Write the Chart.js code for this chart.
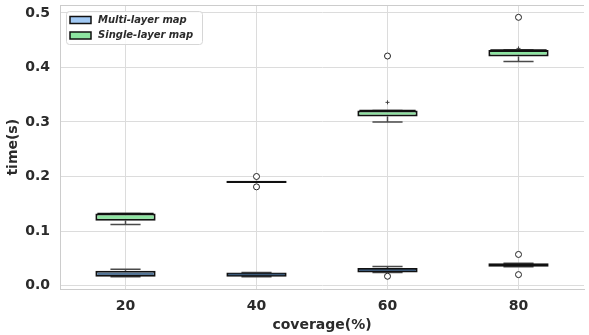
<!DOCTYPE html>
<html>
<head>
<meta charset="utf-8">
<script src="https://cdn.jsdelivr.net/npm/chart.js@4.4.1/dist/chart.umd.min.js"></script>
<style>
  html, body { margin: 0; padding: 0; background: #fff; overflow: hidden; }
  #wrap { width: 589px; height: 335px; }
</style>
</head>
<body>
<div id="wrap"><canvas id="box"></canvas></div>
<script>
const coverage = ['20', '40', '60', '80'];
const yTicks = [0.0, 0.1, 0.2, 0.3, 0.4, 0.5];

// Multi-layer map
const multiQ1 = [0.016, 0.016, 0.024, 0.0345];
const multiQ3 = [0.027, 0.024, 0.032, 0.041];
const multiMedian = [0.021, 0.020, 0.028, 0.038];
const multiLow = [0.016, 0.016, 0.024, 0.0345];
const multiHigh = [0.030, 0.024, 0.035, 0.041];
const multiOutliers = [[], [], [0.017], [0.057, 0.020]];

// Single-layer map
const singleQ1 = [0.119, 0.188, 0.310, 0.420];
const singleQ3 = [0.132, 0.192, 0.321, 0.432];
const singleMedian = [0.132, 0.190, 0.321, 0.432];
const singleLow = [0.112, 0.190, 0.300, 0.411];
const singleHigh = [0.132, 0.190, 0.321, 0.432];
const singleOutliers = [[], [0.200, 0.181], [0.421], [0.492]];
const singleFliers = [[], [], [0.336], [0.435]];

const textColor = '#2b2b2b';
const gridColor = '#dcdcdc';
const blue = '#a1c9f4';
const green = '#8de5a1';

function toPoints(list) {
  let pts = [];
  list.forEach((vals, i) => {
    vals.forEach(v => pts.push({ x: coverage[i], y: v }));
  });
  return pts;
}

const boxParts = [
  { q1: multiQ1, q3: multiQ3, med: multiMedian, low: multiLow, high: multiHigh, medColor: ['#3a5878', '#3a5878', '#3a5878', '#111'] },
  { q1: singleQ1, q3: singleQ3, med: singleMedian, low: singleLow, high: singleHigh, medColor: ['#111', '#111', '#111', '#111'] }
];

// whiskers, caps, medians, top frame, legend
const boxPlugin = {
  id: 'boxPlugin',
  beforeDatasetsDraw(chart) {
    const ctx = chart.ctx;
    const xs = chart.scales.x;
    const ys = chart.scales.y;
    ctx.save();
    boxParts.forEach((p, di) => {
      const meta = chart.getDatasetMeta(di);
      meta.data.forEach((bar, i) => {
        const cx = xs.getPixelForValue(i);
        const half = bar.width / 4;
        ctx.strokeStyle = '#4a4a4a';
        ctx.lineWidth = 1.5;
        ctx.beginPath();
        ctx.moveTo(cx, ys.getPixelForValue(p.q1[i]));
        ctx.lineTo(cx, ys.getPixelForValue(p.low[i]));
        ctx.moveTo(cx, ys.getPixelForValue(p.q3[i]));
        ctx.lineTo(cx, ys.getPixelForValue(p.high[i]));
        ctx.stroke();
        ctx.beginPath();
        ctx.moveTo(cx - half, ys.getPixelForValue(p.low[i]));
        ctx.lineTo(cx + half, ys.getPixelForValue(p.low[i]));
        ctx.moveTo(cx - half, ys.getPixelForValue(p.high[i]));
        ctx.lineTo(cx + half, ys.getPixelForValue(p.high[i]));
        ctx.stroke();
      });
    });
    ctx.restore();
  },
  afterDatasetsDraw(chart) {
    const ctx = chart.ctx;
    const xs = chart.scales.x;
    const ys = chart.scales.y;
    ctx.save();
    boxParts.forEach((p, di) => {
      const meta = chart.getDatasetMeta(di);
      meta.data.forEach((bar, i) => {
        const cx = xs.getPixelForValue(i);
        const half = bar.width / 2 - 2;
        const y = ys.getPixelForValue(p.med[i]);
        ctx.strokeStyle = p.medColor[i];
        ctx.lineWidth = 1.5;
        ctx.beginPath();
        ctx.moveTo(cx - half, y);
        ctx.lineTo(cx + half, y);
        ctx.stroke();
      });
    });
    ctx.restore();
  },
  afterDraw(chart) {
    const ctx = chart.ctx;
    const a = chart.chartArea;
    ctx.save();
    ctx.strokeStyle = '#cccccc';
    ctx.lineWidth = 1;
    ctx.beginPath();
    ctx.moveTo(a.left, a.top + 0.5);
    ctx.lineTo(a.right, a.top + 0.5);
    ctx.stroke();

    // legend
    const lx = a.left + 6, ly = a.top + 6;
    ctx.fillStyle = 'rgba(255,255,255,0.85)';
    ctx.strokeStyle = '#d6d6d6';
    ctx.beginPath();
    ctx.roundRect(lx + 0.5, ly + 0.5, 136, 33, 3);
    ctx.fill();
    ctx.stroke();
    const items = [
      { label: chart.data.datasets[0].label, color: blue },
      { label: chart.data.datasets[1].label, color: green }
    ];
    ctx.font = 'italic bold 10px "DejaVu Sans"';
    ctx.textBaseline = 'middle';
    items.forEach((it, k) => {
      const yy = ly + 9 + k * 15.5;
      ctx.fillStyle = it.color;
      ctx.strokeStyle = '#111';
      ctx.lineWidth = 1.5;
      ctx.fillRect(lx + 4, yy - 3.5, 21, 7);
      ctx.strokeRect(lx + 4, yy - 3.5, 21, 7);
      ctx.fillStyle = textColor;
      ctx.fillText(it.label, lx + 32, yy);
    });
    ctx.restore();
  }
};

new Chart(document.getElementById('box'), {
  type: 'bar',
  data: {
    labels: coverage,
    datasets: [
      {
        label: 'Multi-layer map',
        data: multiQ1.map((v, i) => [v, multiQ3[i]]),
        backgroundColor: blue,
        borderColor: '#111',
        borderWidth: 2,
        borderSkipped: false,
        grouped: false,
        barPercentage: 0.46,
        categoryPercentage: 1
      },
      {
        label: 'Single-layer map',
        data: singleQ1.map((v, i) => [v, singleQ3[i]]),
        backgroundColor: green,
        borderColor: '#111',
        borderWidth: 2,
        borderSkipped: false,
        grouped: false,
        barPercentage: 0.46,
        categoryPercentage: 1
      },
      {
        type: 'line',
        label: 'outliers',
        data: toPoints(multiOutliers.map((v, i) => v.concat(singleOutliers[i]))),
        showLine: false,
        pointStyle: 'circle',
        pointRadius: 3,
        pointBorderWidth: 1,
        pointBorderColor: '#222',
        pointBackgroundColor: '#fff'
      },
      {
        type: 'line',
        label: 'fliers',
        data: toPoints(singleFliers),
        showLine: false,
        pointStyle: 'cross',
        pointRadius: 2,
        pointBorderWidth: 1,
        pointBorderColor: '#444'
      }
    ]
  },
  options: {
    responsive: true,
    maintainAspectRatio: false,
    animation: false,
    layout: { padding: { top: 4, right: 1, left: 0, bottom: 0 } },
    plugins: {
      legend: { display: false },
      tooltip: { enabled: false }
    },
    scales: {
      x: {
        offset: true,
        grid: { offset: false, color: gridColor, drawTicks: false },
        border: { color: '#cccccc' },
        ticks: { color: textColor, padding: 8, font: { family: 'DejaVu Sans', size: 14, weight: 'bold' } },
        title: {
          display: true,
          text: 'coverage(%)',
          color: textColor,
          padding: { top: 0, bottom: 1 },
          font: { family: 'DejaVu Sans', size: 14, weight: 'bold' }
        },
        afterFit(scale) {
          scale.height = 45.5;
          scale.paddingLeft = 0;
          scale.paddingRight = 0;
        }
      },
      y: {
        min: -0.0073,
        max: 0.5146,
        grid: { color: gridColor, drawTicks: false },
        border: { color: '#cccccc' },
        ticks: {
          includeBounds: false,
          stepSize: 0.1,
          padding: 10,
          color: textColor,
          font: { family: 'DejaVu Sans', size: 14, weight: 'bold' },
          callback: v => v.toFixed(1)
        },
        afterBuildTicks(scale) { scale.ticks = yTicks.map(v => ({ value: v })); },
        title: {
          display: true,
          text: 'time(s)',
          color: textColor,
          padding: { top: 5, bottom: 0 },
          font: { family: 'DejaVu Sans', size: 14, weight: 'bold' }
        },
        afterFit(scale) {
          scale.width = 60;
          scale.paddingTop = 0;
          scale.paddingBottom = 0;
        }
      }
    }
  },
  plugins: [boxPlugin]
});
</script>
</body>
</html>
